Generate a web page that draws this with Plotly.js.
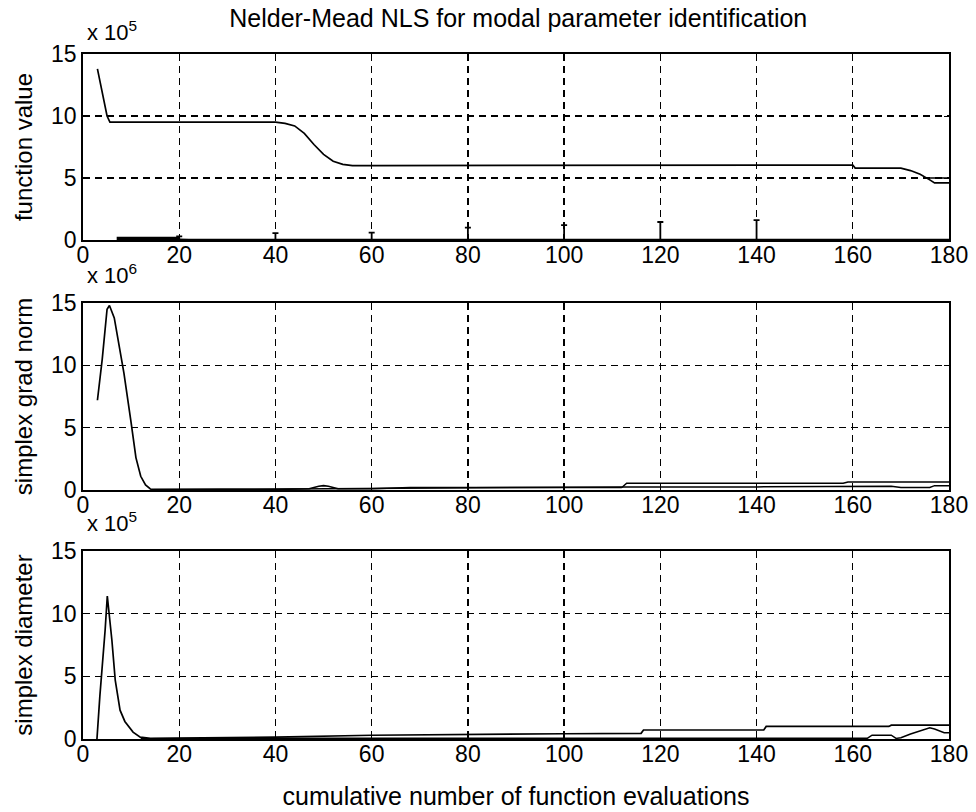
<!DOCTYPE html>
<html>
<head>
<meta charset="utf-8">
<script src="https://cdn.plot.ly/plotly-3.0.1.min.js"></script>
<style>html,body{margin:0;padding:0;background:#fff;}#chart{width:976px;height:812px;}</style>
</head>
<body>
<div id="chart"></div>
<script>
// ---- data (values in units of the axis multipliers) ----
// function value (x 10^5)
const fvX = [3, 4, 5, 5.6, 10, 20, 30, 40, 42, 44, 46, 48, 50, 52, 54, 56, 60, 80, 100, 120, 140, 160, 160.5, 170, 172, 174, 176, 177, 180];
const fvY = [13.8, 12.0, 10.0, 9.5, 9.5, 9.5, 9.5, 9.5, 9.4, 9.2, 8.6, 7.7, 6.9, 6.35, 6.1, 6.0, 6.0, 6.0, 6.0, 6.0, 6.05, 6.05, 5.8, 5.8, 5.6, 5.3, 4.85, 4.6, 4.6];
const fvLowX = [7, 20];
const fvLowY = [0.1, 0.1];
const fvBaseX = [20, 22, 40, 60, 80, 100, 120, 140, 160, 180];
const fvBaseY = [0.05, 0.03, 0.03, 0.03, 0.03, 0.03, 0.03, 0.03, 0.03, 0.03];
const fvEndX = [175.5, 180];
const fvEndY = [5.0, 5.0];
const spikeX = [20, 40, 60, 80, 100, 120, 140];
const spikeH = [0.3, 0.55, 0.6, 1.0, 1.2, 1.45, 1.6];

// simplex grad norm (x 10^6)
const gnX = [3, 4, 5, 5.5, 6.5, 7.5, 8.5, 10, 11, 12, 13, 14, 20, 40, 47, 49, 50, 51, 53, 60, 68, 80, 100, 112];
const gnY = [7.2, 10.5, 14.5, 14.8, 13.8, 11.6, 9.4, 5.4, 2.6, 1.1, 0.4, 0.08, 0.05, 0.05, 0.1, 0.3, 0.35, 0.3, 0.1, 0.1, 0.2, 0.2, 0.2, 0.2];
const gnUpX = [112, 113, 158, 159, 180];
const gnUpY = [0.2, 0.55, 0.55, 0.65, 0.65];
const gnLowX = [14, 113, 140, 160, 168, 170, 176, 177, 180];
const gnLowY = [0.02, 0.25, 0.25, 0.3, 0.3, 0.2, 0.2, 0.35, 0.35];

// simplex diameter (x 10^5)
const sdX = [2.9, 3.5, 4.6, 5.05, 6, 6.7, 7.7, 8.7, 10.4, 11.9, 14, 40, 60, 80, 100, 116, 116.5, 141.5, 142, 167.5, 168, 180];
const sdY = [0, 3.4, 8.7, 11.4, 7.9, 4.7, 2.3, 1.4, 0.55, 0.15, 0.05, 0.15, 0.3, 0.38, 0.42, 0.45, 0.72, 0.72, 1.0, 1.0, 1.1, 1.1];
const sdLowX = [12, 40, 100, 160, 163, 164, 168, 169, 170, 172, 176, 177, 179, 180];
const sdLowY = [0.02, 0.05, 0.05, 0.05, 0.05, 0.3, 0.3, 0.05, 0.1, 0.4, 0.9, 0.8, 0.5, 0.5];

const xTicks = [0, 20, 40, 60, 80, 100, 120, 140, 160, 180];
const yTicks = [0, 5, 10, 15];

function tr(x, y, xa, ya, w) {
  return {x: x, y: y, xaxis: xa, yaxis: ya, type: 'scatter', mode: 'lines',
          line: {color: '#000', width: w || 1.7}, hoverinfo: 'skip', showlegend: false};
}
const traces = [
  tr(fvX, fvY, 'x', 'y'),
  tr(fvLowX, fvLowY, 'x', 'y', 4),
  tr(fvBaseX, fvBaseY, 'x', 'y', 2),
  tr(fvEndX, fvEndY, 'x', 'y', 1.5),
  {x: spikeX, y: spikeX.map(() => 0), xaxis: 'x', yaxis: 'y', type: 'scatter', mode: 'markers',
   marker: {size: 1, color: '#000'}, showlegend: false, hoverinfo: 'skip',
   error_y: {type: 'data', symmetric: false, array: spikeH, arrayminus: spikeX.map(() => 0),
             color: '#000', thickness: 1.8, width: 3}},
  tr(gnX, gnY, 'x2', 'y2'),
  tr(gnUpX, gnUpY, 'x2', 'y2', 1.5),
  tr(gnLowX, gnLowY, 'x2', 'y2', 1.5),
  tr(sdX, sdY, 'x3', 'y3'),
  tr(sdLowX, sdLowY, 'x3', 'y3', 1.5)
];

const FONT = 'Liberation Sans, Arial, sans-serif';
function xax(anchor) {
  return {anchor: anchor, range: [0, 180], tickvals: xTicks, ticktext: xTicks.map(String),
          showgrid: true, gridcolor: '#000', griddash: '7px,5px', gridwidth: 1.3,
          zeroline: false, showline: true, linecolor: '#000', linewidth: 1.8, mirror: 'ticks',
          ticks: 'inside', ticklen: 5, tickcolor: '#000', tickwidth: 1,
          ticklabelstandoff: -6,
          tickfont: {family: FONT, size: 23, color: '#000'}, automargin: false};
}
function yax(anchor, dom, title) {
  return {anchor: anchor, domain: dom, range: [0, 15], tickvals: yTicks, ticktext: yTicks.map(String),
          showgrid: true, gridcolor: '#000', griddash: '7px,5px', gridwidth: 1.3,
          zeroline: false, showline: true, linecolor: '#000', linewidth: 1.8, mirror: 'ticks',
          ticks: 'inside', ticklen: 5, tickcolor: '#000', tickwidth: 1,
          tickfont: {family: FONT, size: 23, color: '#000'}, automargin: false,
          title: {text: title, font: {family: FONT, size: 24, color: '#000'}, standoff: 12}};
}
const H = 812;
const layout = {
  width: 976, height: 812,
  margin: {l: 83, r: 27, t: 0, b: 0},
  paper_bgcolor: '#fff', plot_bgcolor: '#fff',
  showlegend: false,
  title: {text: 'Nelder-Mead NLS for modal parameter identification',
          font: {family: FONT, size: 25, color: '#000'}, x: 0.531, xanchor: 'center', y: 1 - 18 / H, yanchor: 'middle'},
  xaxis: xax('y'), xaxis2: xax('y2'), xaxis3: Object.assign(xax('y3'),
     {title: {text: 'cumulative number of function evaluations', font: {family: FONT, size: 25, color: '#000'}, standoff: 21}}),
  yaxis: yax('x', [1 - 240 / H, 1 - 54 / H], 'function value'),
  yaxis2: yax('x2', [1 - 490 / H, 1 - 303 / H], 'simplex grad norm'),
  yaxis3: yax('x3', [1 - 739 / H, 1 - 551 / H], 'simplex diameter'),
  annotations: [
    {text: 'x 10<sup>5</sup>', xref: 'paper', yref: 'paper', x: 0.002, y: 1 - 47 / H, xanchor: 'left', yanchor: 'bottom', showarrow: false, font: {family: FONT, size: 22, color: '#000'}},
    {text: 'x 10<sup>6</sup>', xref: 'paper', yref: 'paper', x: 0.002, y: 1 - 290 / H, xanchor: 'left', yanchor: 'bottom', showarrow: false, font: {family: FONT, size: 22, color: '#000'}},
    {text: 'x 10<sup>5</sup>', xref: 'paper', yref: 'paper', x: 0.002, y: 1 - 538 / H, xanchor: 'left', yanchor: 'bottom', showarrow: false, font: {family: FONT, size: 22, color: '#000'}}
  ]
};
Plotly.newPlot('chart', traces, layout, {displayModeBar: false, staticPlot: true});
</script>
</body>
</html>
